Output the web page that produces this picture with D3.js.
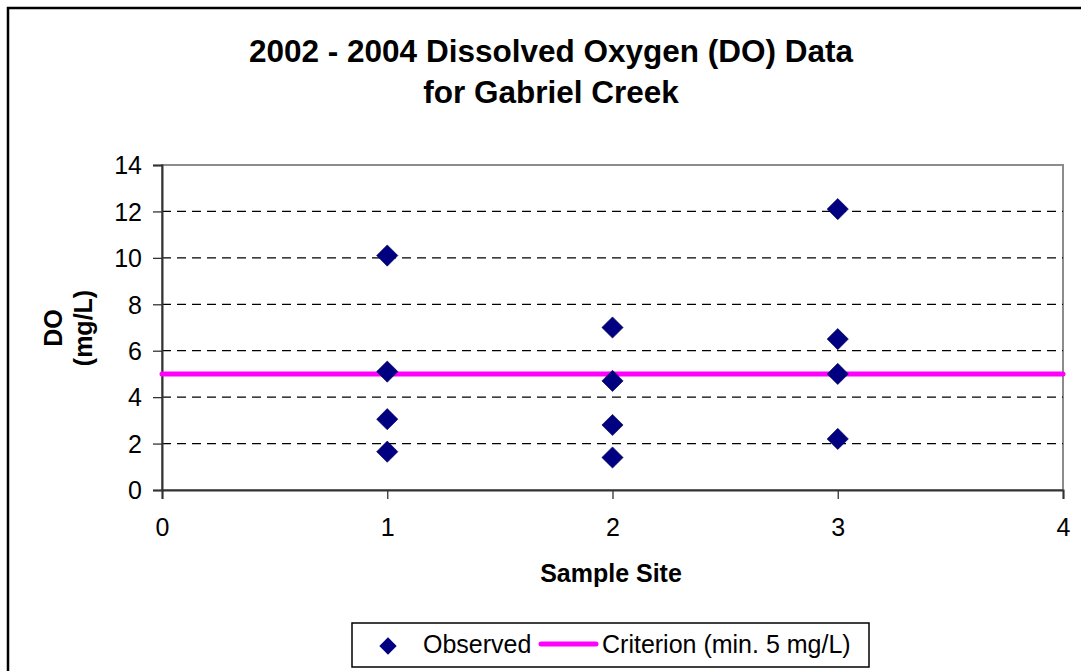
<!DOCTYPE html>
<html>
<head>
<meta charset="utf-8">
<script src="https://cdn.jsdelivr.net/npm/d3@7"></script>
<style>
  html, body { margin: 0; padding: 0; background: #fff; }
  svg { display: block; font-family: "Liberation Sans", Arial, sans-serif; }
</style>
</head>
<body>
<svg id="chart" width="1081" height="671"></svg>
<script>
// DO readings per sample site
const sites = [1, 2, 3];
const site1 = [10.1, 5.1, 3.05, 1.65];
const site2 = [7.0, 4.7, 2.8, 1.4];
const site3 = [12.1, 6.5, 5.0, 2.2];
const criterion = 5;            // min. 5 mg/L
const criterionX = [0, 4];
const xTicks = [0, 1, 2, 3, 4];
const yTicks = [0, 2, 4, 6, 8, 10, 12, 14];

const observed = [site1, site2, site3]
  .flatMap((vals, i) => vals.map(v => ({ site: sites[i], value: v })));

const svg = d3.select('#chart');
const W = 1081, H = 671;
const m = { left: 162, right: 1063, top: 165, bottom: 490 };

const x = d3.scaleLinear().domain([0, 4]).range([m.left, m.right]);
const y = d3.scaleLinear().domain([0, 14]).range([m.bottom, m.top]);

// outer chart frame (runs off the right and bottom edge, as in the source)
svg.append('rect')
  .attr('x', 8).attr('y', 8).attr('width', W + 20).attr('height', H + 20)
  .attr('fill', '#fff').attr('stroke', '#000').attr('stroke-width', 2.5);

// title
const title = svg.append('text')
  .attr('text-anchor', 'middle').attr('font-size', 31.5).attr('font-weight', 'bold');
title.append('tspan').attr('x', 551).attr('y', 62).text('2002 - 2004 Dissolved Oxygen (DO) Data');
title.append('tspan').attr('x', 551).attr('y', 103).text('for Gabriel Creek');

// plot area border (top/right gray)
svg.append('rect')
  .attr('x', m.left).attr('y', m.top)
  .attr('width', m.right - m.left).attr('height', m.bottom - m.top)
  .attr('fill', 'none').attr('stroke', '#8c8c8c').attr('stroke-width', 2);

// dashed gridlines
svg.append('g').selectAll('line')
  .data(yTicks.filter(t => t > 0 && t < 14)).join('line')
  .attr('x1', m.left).attr('x2', m.right)
  .attr('y1', d => y(d)).attr('y2', d => y(d))
  .attr('stroke', '#000').attr('stroke-width', 1.2)
  .attr('stroke-dasharray', '9,6');

// axes
const yAxis = svg.append('g')
  .attr('transform', `translate(${m.left},0)`)
  .call(d3.axisLeft(y).tickValues(yTicks).tickFormat(d3.format('d')).tickSize(9).tickPadding(11));
const xAxis = svg.append('g')
  .attr('transform', `translate(0,${m.bottom})`)
  .call(d3.axisBottom(x).tickValues(xTicks).tickFormat(d3.format('d')).tickSize(9).tickPadding(19));

[yAxis, xAxis].forEach(a => {
  a.select('.domain').attr('stroke', '#333').attr('stroke-width', 2);
  a.selectAll('.tick line').attr('stroke', '#333').attr('stroke-width', 1.3);
  a.selectAll('.tick text')
    .attr('font-size', 25).attr('fill', '#000')
    .attr('font-family', '"Liberation Sans", Arial, sans-serif');
});
yAxis.selectAll('.tick text').attr('dy', '0.35em');

// axis titles
svg.append('text')
  .attr('x', 611).attr('y', 582)
  .attr('text-anchor', 'middle').attr('font-size', 25).attr('font-weight', 'bold')
  .text('Sample Site');
const yt = svg.append('text')
  .attr('transform', 'translate(62,328) rotate(-90)')
  .attr('text-anchor', 'middle').attr('font-size', 25).attr('font-weight', 'bold');
yt.append('tspan').attr('x', 0).attr('y', 0).text('DO');
yt.append('tspan').attr('x', 0).attr('y', 30).text('(mg/L)');

// criterion line
svg.append('line')
  .attr('x1', x(criterionX[0])).attr('x2', x(criterionX[1]))
  .attr('y1', y(criterion)).attr('y2', y(criterion))
  .attr('stroke', '#ff00ff').attr('stroke-width', 5).attr('stroke-linecap', 'round');

// observed points
const diamond = d3.symbol().type(d3.symbolSquare).size(225);
svg.append('g').selectAll('path')
  .data(observed).join('path')
  .attr('d', diamond)
  .attr('transform', d => `translate(${x(d.site)},${y(d.value)}) rotate(45)`)
  .attr('fill', '#000080').attr('stroke', '#00005a').attr('stroke-width', 0.6);

// legend
const lg = svg.append('g');
lg.append('rect')
  .attr('x', 352).attr('y', 623).attr('width', 517).attr('height', 44)
  .attr('fill', '#fff').attr('stroke', '#000').attr('stroke-width', 1.5);
lg.append('path')
  .attr('d', d3.symbol().type(d3.symbolSquare).size(150))
  .attr('transform', 'translate(388,646) rotate(45)')
  .attr('fill', '#000080');
lg.append('text').attr('x', 423).attr('y', 653).attr('font-size', 25).text('Observed');
lg.append('line')
  .attr('x1', 541).attr('x2', 596).attr('y1', 644).attr('y2', 644)
  .attr('stroke', '#ff00ff').attr('stroke-width', 5).attr('stroke-linecap', 'round');
lg.append('text').attr('x', 602).attr('y', 653).attr('font-size', 25).text('Criterion (min. 5 mg/L)');
</script>
</body>
</html>
